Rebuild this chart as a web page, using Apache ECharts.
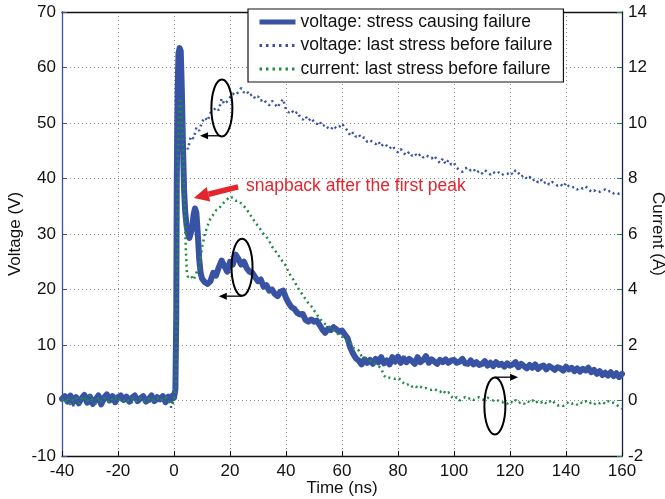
<!DOCTYPE html>
<html>
<head>
<meta charset="utf-8">
<script src="https://cdn.jsdelivr.net/npm/echarts@6/dist/echarts.min.js"></script>
<style>
html,body{margin:0;padding:0;background:#fff;}
#chart{width:665px;height:499px;}
</style>
</head>
<body>
<div id="chart"></div>
<script>
// ---- Data ----
// Thick blue: voltage, stress causing failure (V)
const failTime = [-40,-39,-38,-37,-36,-35,-34,-33,-32,-31,-30,-29,-28,-27,-26,-25,-24,-23,-22,-21,-20,-19,-18,-17,-16,-15,-14,-13,-12,-11,-10,-9,-8,-7,-6,-5,-4,-3,-2,-1,-0.5,
  0,0.5,0.8,1.0,1.3,1.6,2.0,2.4,2.8,3.2,3.6,4.0,4.5,5.0,5.5,6.0,6.5,7.0,7.5,8.0,8.5,9.0,9.5,
  10,11,12,13,14,15,16,17,18,19,20,21,22,23,24,25,26,27,28,29,30,31,32,33,34,35,36,37,38,39,
  40,41,42,43,44,45,46,47,48,49,50,51,52,53,54,55,56,57,58,59,60,61,62,63,64,65,66,67,68,69,
  70,71,72,73,74,75,76,77,78,79,80,81,82,83,84,85,86,87,88,89,90,91,92,93,94,95,96,97,98,99,
  100,101,102,103,104,105,106,107,108,109,110,111,112,113,114,115,116,117,118,119,120,121,122,123,124,125,126,127,128,129,
  130,131,132,133,134,135,136,137,138,139,140,141,142,143,144,145,146,147,148,149,150,151,152,153,154,155,156,157,158,159,160];
const failVoltage = [0.3,0.8,-0.2,0.9,-0.3,0.6,-0.5,0.4,1.0,-0.4,0.7,-0.6,0.2,0.9,-0.7,0.5,1.1,0.0,0.8,-0.3,0.6,0.9,0.1,0.7,-0.2,0.5,0.9,-0.1,0.4,0.8,-0.2,0.3,0.9,-0.1,0.6,0.2,0.8,-0.3,0.7,0.2,0.9,
  0.5,2,15,40,56,62.5,63.5,63,56,46,38,34,31.5,30,29.3,29.5,31,33.5,34.6,33.8,30,25.5,23,
  22,21.3,21,21.5,23,22.5,24,25.2,24.2,23.2,25,24.5,26.3,25.5,24.5,25,23.8,23.2,23,22.2,21.5,21.8,20.5,20.8,19.8,20,19.2,18.8,19.6,19.8,
  18.5,17.5,16.8,16.5,15.8,15.5,15.6,14.5,14.2,14.6,14.2,14.4,13.6,12.8,12.2,12.9,12.7,13.2,12.8,12.4,12.6,11.9,11.2,9.5,8.4,7.6,7.2,6.5,7.4,6.8,
  7.3,6.6,7.5,6.9,7.8,6.7,7.2,6.5,7.8,7.0,7.9,6.8,7.6,6.9,7.5,7.1,6.6,7.8,6.9,7.3,8.0,6.8,7.4,7.0,6.6,7.3,6.9,7.4,6.8,7.2,
  7.3,6.8,7.0,7.5,6.7,6.6,7.2,6.5,6.9,6.4,6.6,7.1,6.3,6.8,6.2,6.9,6.4,6.6,6.1,6.7,6.3,6.5,6.9,6.0,6.6,6.2,5.8,6.4,5.9,6.5,
  5.7,6.1,6.3,5.6,6.2,5.9,5.5,6.0,5.8,5.4,6.1,5.6,5.9,5.3,5.8,5.2,5.7,5.4,5.9,5.1,5.5,4.8,5.3,4.6,5.0,4.5,5.1,4.4,4.9,4.2,4.8];

// Blue dotted: voltage, last stress before failure (V)
const lastTime = [-40,-39,-38,-37,-36,-35,-34,-33,-32,-31,-30,-29,-28,-27,-26,-25,-24,-23,-22,-21,-20,-19,-18,-17,-16,-15,-14,-13,-12,-11,-10,-9,-8,-7,-6,-5,-4,-3,-2,-1,
  0,0.5,1.0,1.5,2,3,4,5,6,7,8,9,10,11,12,13,14,15,16,17,18,19,20,21,22,23,24,25,26,27,28,29,30,31,32,33,34,35,36,37,38,39,
  40,41,42,43,44,45,46,47,48,49,50,51,52,53,54,55,56,57,58,59,60,61,62,63,64,65,66,67,68,69,
  70,71,72,73,74,75,76,77,78,79,80,81,82,83,84,85,86,87,88,89,90,91,92,93,94,95,96,97,98,99,
  100,101,102,103,104,105,106,107,108,109,110,111,112,113,114,115,116,117,118,119,120,121,122,123,124,125,126,127,128,129,
  130,131,132,133,134,135,136,137,138,139,140,141,142,143,144,145,146,147,148,149,150,151,152,153,154,155,156,157,158,159,160];
const lastVoltage = [0.1,0.6,-0.4,0.3,-1.0,0.5,-0.2,0.7,-0.5,0.2,1.2,-0.3,0.4,-0.6,0.8,0.0,-0.4,0.6,0.2,-0.5,0.5,0.1,-0.3,0.6,0.0,-0.4,0.5,0.2,-0.3,0.4,0.0,-0.5,0.3,0.6,-0.2,0.4,0.1,-0.6,0.3,-1.3,
  0.2,18,44,51,49,47,46,45.3,47.6,47.2,49.2,48.6,50.2,51.0,50.4,51.8,52.2,52.8,52.3,54.4,53.4,53.9,54.6,55.3,55.0,55.6,56.3,55.5,55.8,54.9,55.2,54.4,54.8,54.0,54.3,53.6,53.2,54.0,53.4,52.8,53.7,54.3,
  52.4,51.9,52.3,51.6,52.0,51.1,50.6,51.2,50.4,50.9,50.2,49.8,50.3,49.4,49.7,49.1,48.8,49.5,49.0,49.3,49.9,49.2,48.6,47.7,48.3,47.5,47.9,47.2,47.4,46.6,
  46.9,46.5,46.2,46.7,45.8,46.3,45.9,45.4,45.9,45.2,44.7,45.3,44.6,44.2,44.8,44.1,44.5,43.9,44.4,43.8,44.2,43.9,43.6,44.1,43.3,42.8,43.6,42.6,43.3,42.5,
  42.8,41.9,41.5,41.2,41.8,42.0,41.4,41.7,41.0,41.4,40.9,41.5,41.1,40.7,41.2,40.8,41.1,40.6,40.9,40.8,41.2,40.7,41.5,41.0,40.3,40.6,39.9,40.3,39.6,39.9,
  39.3,39.8,39.1,39.5,38.9,39.4,39.1,38.7,39.0,38.5,39.2,38.6,38.3,38.5,38.0,38.4,38.2,38.6,38.1,37.6,37.9,37.5,37.6,37.9,38.0,37.6,37.8,37.3,37.5,37.2,37.4];

// Green dotted: current, last stress before failure (A)
const currTime = [-40,-39,-38,-37,-36,-35,-34,-33,-32,-31,-30,-29,-28,-27,-26,-25,-24,-23,-22,-21,-20,-19,-18,-17,-16,-15,-14,-13,-12,-11,-10,-9,-8,-7,-6,-5,-4,-3,-2,-1,-0.5,
  0,0.6,1.0,1.3,1.7,2.2,2.6,3.0,3.4,3.8,4.2,4.6,5,6,7,8,9,10,11,12,13,14,15,16,17,18,19,20,21,22,23,24,25,26,27,28,29,30,31,32,33,34,35,36,37,38,39,
  40,41,42,43,44,45,46,47,48,49,50,51,52,53,54,55,56,57,58,59,60,61,62,63,64,65,66,67,68,69,
  70,71,72,73,74,75,76,77,78,79,80,81,82,83,84,85,86,87,88,89,90,91,92,93,94,95,96,97,98,99,
  100,101,102,103,104,105,106,107,108,109,110,111,112,113,114,115,116,117,118,119,120,121,122,123,124,125,126,127,128,129,
  130,131,132,133,134,135,136,137,138,139,140,141,142,143,144,145,146,147,148,149,150,151,152,153,154,155,156,157,158,159,160];
const lastCurrent = [0.05,-0.08,0.1,-0.15,0.02,0.12,-0.1,0.05,0.15,-0.05,0.2,0.0,-0.12,0.08,-0.05,0.1,0.0,-0.08,0.06,0.12,-0.02,0.08,0.0,-0.06,0.05,0.1,-0.04,0.02,0.08,-0.05,0.0,0.06,-0.03,0.04,0.1,-0.02,0.05,0.12,0.0,-0.15,-0.2,
  0,0.5,4,8,10.3,10.9,10.5,9.6,8.4,7.0,5.5,4.6,4.45,4.5,4.35,4.6,4.8,5.5,6.0,6.3,6.55,6.7,6.85,6.9,7.05,7.15,7.25,7.35,7.3,7.2,7.2,7.1,7.0,6.9,6.7,6.6,6.4,6.3,6.15,6.0,5.9,5.75,5.55,5.4,5.3,5.1,5.0,
  4.85,4.6,4.45,4.3,4.1,3.95,3.8,3.65,3.5,3.4,3.25,3.1,2.95,2.85,2.75,2.7,2.6,2.55,2.45,2.35,2.3,2.2,2.15,2.1,1.9,1.85,1.8,1.6,1.55,1.5,
  1.45,1.35,1.3,1.25,1.15,0.9,0.8,0.82,0.8,0.78,0.82,0.75,0.62,0.55,0.6,0.5,0.55,0.45,0.5,0.42,0.45,0.4,0.38,0.42,0.35,0.3,0.38,0.25,0.3,0.15,
  0.05,0.12,0.0,0.08,0.12,0.05,0.1,0.02,0.08,0.12,0.05,0.02,0.1,0.05,0.0,0.04,-0.02,-0.08,-0.05,-0.12,-0.02,-0.08,0.02,-0.1,-0.05,-0.12,-0.02,-0.06,0.02,-0.1,
  -0.03,-0.08,-0.01,-0.12,-0.05,0.02,-0.1,-0.18,-0.15,-0.2,-0.12,-0.05,-0.12,-0.08,-0.15,-0.06,-0.1,-0.02,-0.12,-0.08,-0.15,-0.06,-0.1,-0.05,-0.12,-0.02,-0.1,-0.08,-0.15,-0.22,-0.3];

const seriesNames = ['voltage: stress causing failure','voltage: last stress before failure','current: last stress before failure'];
const xTicks = {min:-40, max:160, interval:20};
const vTicks = {min:-10, max:70, interval:10};
const iTicks = {min:-2, max:14, interval:2};

// annotation anchors in data units (time ns, voltage V)
const ellipseCenters = [[17.1, 52.7],[24.3, 24.0],[114.6, -1.0]];
const blackArrows = [[[16.8, 47.7],[9.3, 47.7]], [[24.3, 18.8],[16.0, 18.8]], [[114.6, 4.2],[122.9, 4.2]]];
const redArrow = [[22.9, 38.5],[7.1, 36.5]];
const redTextAnchor = [25.7, 38.6];
const redText = 'snapback after the first peak';

// ---- Chart ----
const FONT = '"Liberation Sans", Arial, Helvetica, sans-serif';
const BLUE = '#3953a4', GREEN = '#1e8c44', RED = '#e3262e';
const zip = (a, b) => a.map((t, i) => [t, b[i]]);

const chart = echarts.init(document.getElementById('chart'), null, {renderer: 'canvas'});
const gridDots = {show: true, lineStyle: {type: [1, 3], color: '#8a8a8a', width: 1}};
const thickStyle = {color: BLUE, width: 6, join: 'round', cap: 'round'};
const dotBlue = {color: BLUE, width: 2.5, type: [2, 3.5]};
const dotGreen = {color: GREEN, width: 2.5, type: [2, 3.5]};

chart.setOption({
  animation: false,
  backgroundColor: '#fff',
  textStyle: {fontFamily: FONT},
  grid: {left: 62, right: 43, top: 12, bottom: 43, containLabel: false, outerBoundsMode: 'none'},
  legend: {
    left: 248, top: 9, orient: 'vertical',
    backgroundColor: '#fff', borderColor: '#111', borderWidth: 1.2, borderRadius: 0,
    padding: [4, 11, 4, 9], itemGap: 5.5, itemWidth: 36, itemHeight: 14,
    itemStyle: {opacity: 0},
    textStyle: {fontSize: 17.5, lineHeight: 18, color: '#111', fontFamily: FONT},
    data: [
      {name: seriesNames[0], lineStyle: {color: BLUE, width: 5, cap: 'butt'}},
      {name: seriesNames[1], lineStyle: {color: BLUE, width: 3, type: [2.5, 4]}},
      {name: seriesNames[2], lineStyle: {color: GREEN, width: 3, type: [2.5, 4]}}
    ]
  },
  xAxis: [{
    type: 'value', min: xTicks.min, max: xTicks.max, interval: xTicks.interval, position: 'bottom',
    axisLine: {show: true, onZero: false, lineStyle: {color: '#111', width: 1.3}},
    axisTick: {show: true, inside: true, length: 5, lineStyle: {color: '#111'}},
    axisLabel: {fontSize: 17, color: '#111', margin: 7, fontFamily: FONT, showMinLabel: true, showMaxLabel: true},
    splitLine: gridDots,
    name: 'Time (ns)', nameLocation: 'middle', nameGap: 24, nameMoveOverlap: false,
    nameTextStyle: {fontSize: 17, color: '#111', fontFamily: FONT, verticalAlign: 'top'}
  }, {
    type: 'value', min: xTicks.min, max: xTicks.max, interval: xTicks.interval, position: 'top',
    axisLine: {show: true, onZero: false, lineStyle: {color: '#111', width: 1.3}},
    axisTick: {show: false}, axisLabel: {show: false}, splitLine: {show: false}
  }],
  yAxis: [{
    type: 'value', min: vTicks.min, max: vTicks.max, interval: vTicks.interval, position: 'left',
    axisLine: {show: true, onZero: false, lineStyle: {color: '#3b4f9c', width: 1.3}},
    axisTick: {show: true, inside: true, length: 5, lineStyle: {color: '#3b4f9c'}},
    axisLabel: {fontSize: 17, color: '#111', margin: 6, fontFamily: FONT, showMinLabel: true, showMaxLabel: true},
    splitLine: gridDots,
    name: 'Voltage (V)', nameLocation: 'middle', nameGap: 38, nameRotate: 90, nameMoveOverlap: false,
    nameTextStyle: {fontSize: 17, color: '#111', fontFamily: FONT}
  }, {
    type: 'value', min: iTicks.min, max: iTicks.max, interval: iTicks.interval, position: 'right',
    axisLine: {show: true, onZero: false, lineStyle: {color: '#1c2340', width: 1.3}},
    axisTick: {show: true, inside: true, length: 5, lineStyle: {color: GREEN}},
    axisLabel: {fontSize: 17, color: '#111', margin: 6, fontFamily: FONT, showMinLabel: true, showMaxLabel: true},
    splitLine: {show: false},
    name: 'Current (A)', nameLocation: 'middle', nameGap: 27, nameRotate: -90, nameMoveOverlap: false,
    nameTextStyle: {fontSize: 17, color: '#111', fontFamily: FONT}
  }],
  series: [{
    name: seriesNames[0], type: 'line', xAxisIndex: 0, yAxisIndex: 0,
    data: zip(failTime, failVoltage), symbol: 'none', smooth: false, z: 2,
    lineStyle: thickStyle, itemStyle: {color: BLUE}
  }, {
    name: seriesNames[1], type: 'line', xAxisIndex: 0, yAxisIndex: 0,
    data: zip(lastTime, lastVoltage), symbol: 'none', z: 3,
    lineStyle: dotBlue, itemStyle: {color: BLUE}
  }, {
    name: seriesNames[2], type: 'line', xAxisIndex: 0, yAxisIndex: 1,
    data: zip(currTime, lastCurrent), symbol: 'none', z: 3,
    lineStyle: dotGreen, itemStyle: {color: GREEN}
  }]
});

// ---- Annotations (positioned from data coordinates) ----
function px(p) { return chart.convertToPixel({xAxisIndex: 0, yAxisIndex: 0}, p); }
function arrowHead(tail, tip, len, half) {
  const dx = tip[0] - tail[0], dy = tip[1] - tail[1];
  const L = Math.sqrt(dx * dx + dy * dy), ux = dx / L, uy = dy / L;
  const bx = tip[0] - ux * len, by = tip[1] - uy * len;
  return {base: [bx, by], pts: [tip, [bx - uy * half, by + ux * half], [bx + uy * half, by - ux * half]]};
}
const g = [];
ellipseCenters.forEach(c => {
  const p = px(c);
  g.push({type: 'ellipse', shape: {cx: p[0], cy: p[1], rx: 10.5, ry: 28.5}, style: {fill: 'none', stroke: '#000', lineWidth: 2}, z: 100});
});
blackArrows.forEach(a => {
  const t = px(a[0]), h = px(a[1]);
  const ah = arrowHead(t, h, 8, 3.5);
  g.push({type: 'line', shape: {x1: t[0], y1: t[1], x2: ah.base[0], y2: ah.base[1]}, style: {stroke: '#000', lineWidth: 1.3}, z: 100});
  g.push({type: 'polygon', shape: {points: ah.pts}, style: {fill: '#000'}, z: 100});
});
{
  const t = px(redArrow[0]), h = px(redArrow[1]);
  const ah = arrowHead(t, h, 15, 7.5);
  g.push({type: 'line', shape: {x1: t[0], y1: t[1], x2: ah.base[0], y2: ah.base[1]}, style: {stroke: RED, lineWidth: 5.5}, z: 100});
  g.push({type: 'polygon', shape: {points: ah.pts}, style: {fill: RED}, z: 100});
  const tp = px(redTextAnchor);
  g.push({type: 'text', x: tp[0], y: tp[1], style: {text: redText, fill: RED, font: '17.5px ' + FONT, verticalAlign: 'middle'}, z: 100});
}
chart.setOption({graphic: g});
</script>
</body>
</html>
